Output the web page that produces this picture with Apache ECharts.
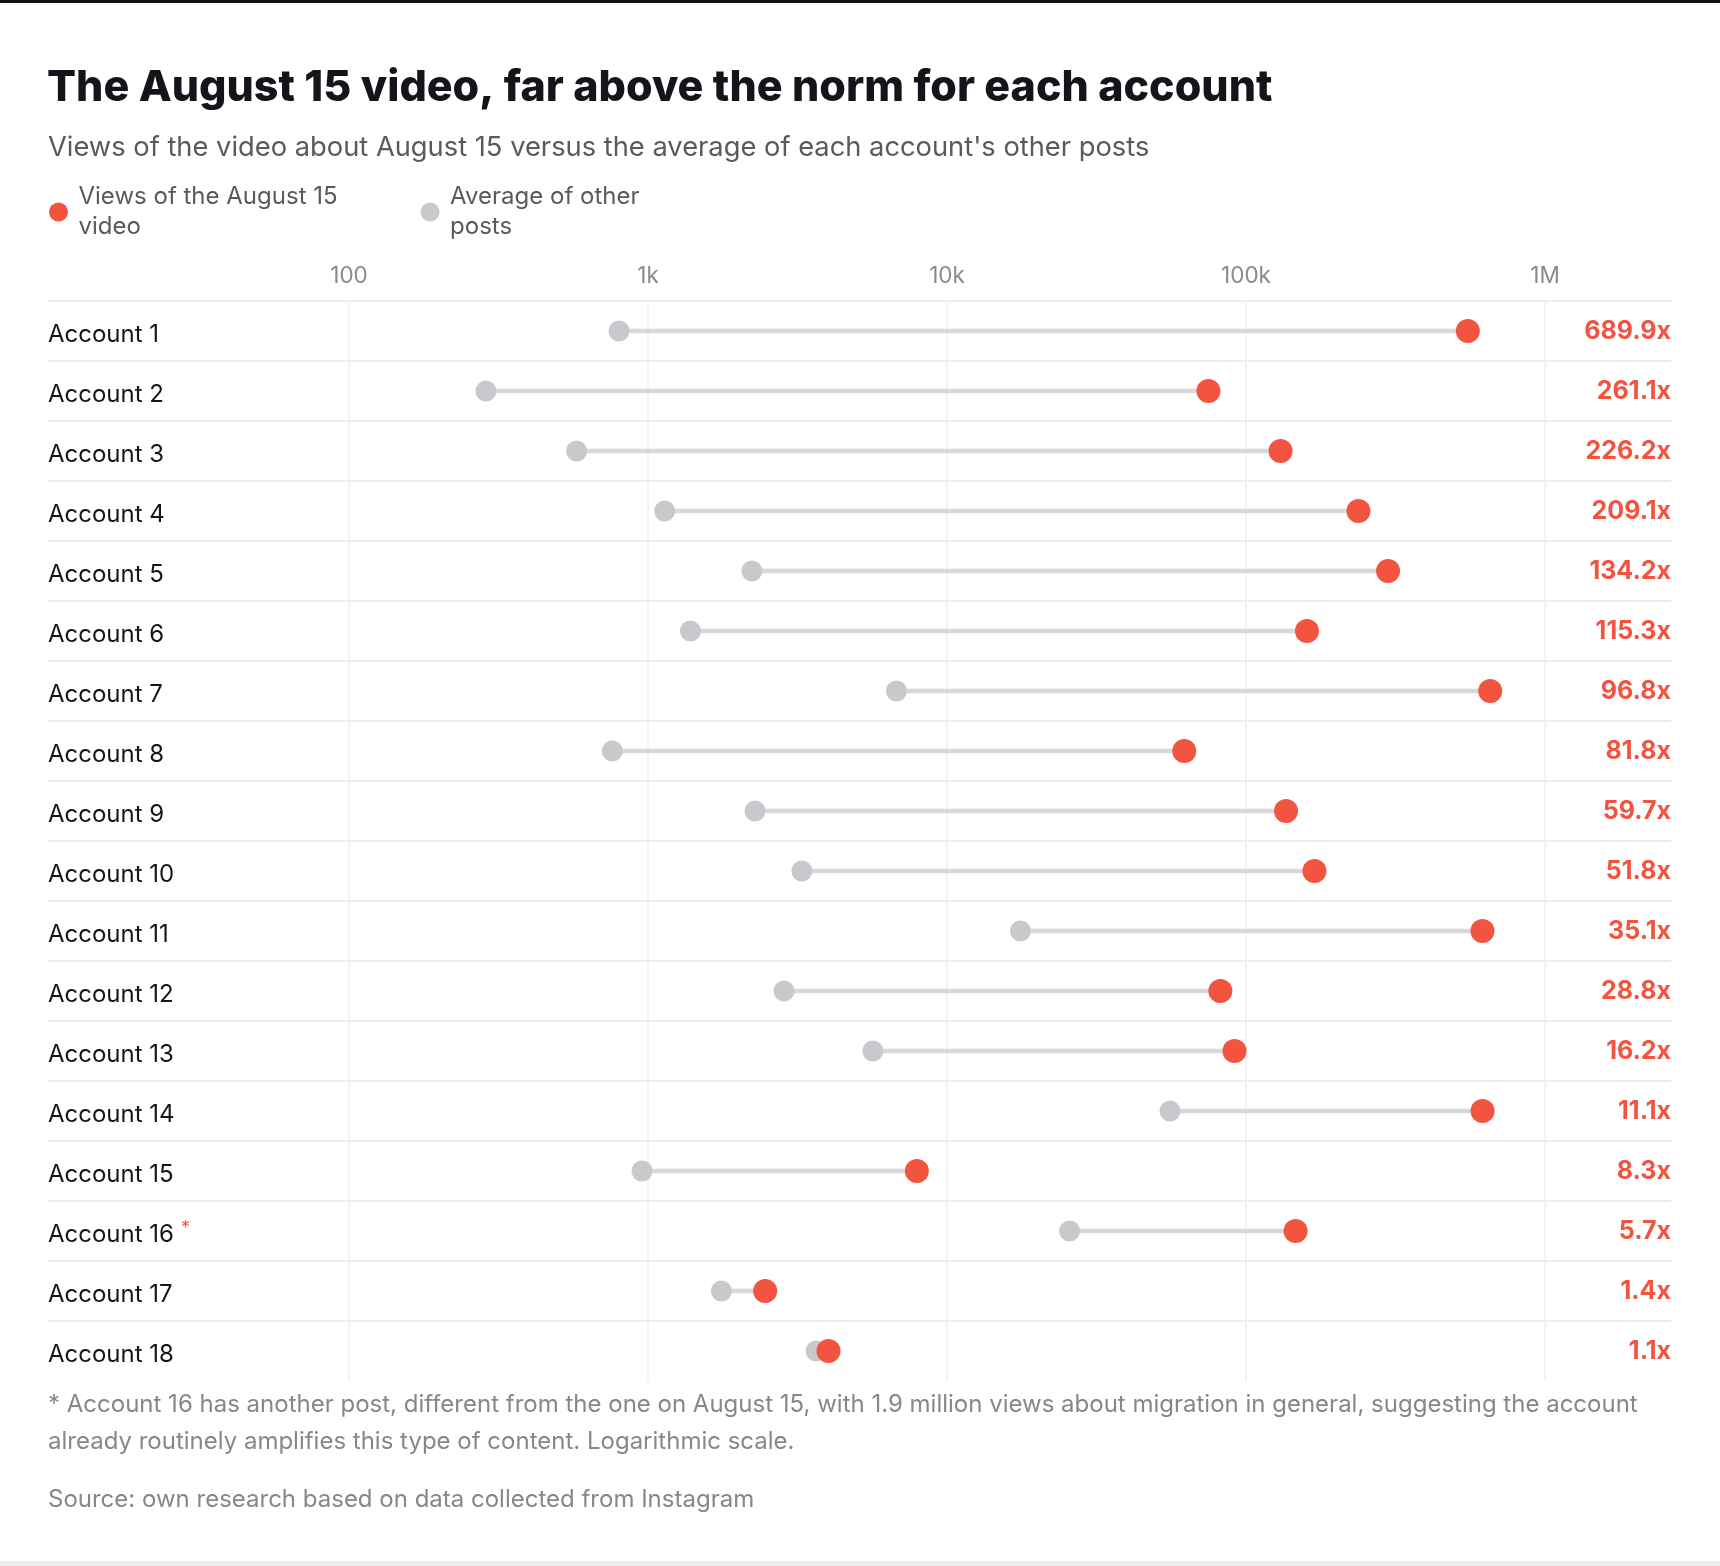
<!DOCTYPE html>
<html>
<head>
<meta charset="utf-8">
<script src="https://cdn.jsdelivr.net/npm/echarts@6/dist/echarts.min.js"></script>
<style>
html,body{margin:0;padding:0;background:#fff;}
#chart{width:1720px;height:1566px;}
</style>
</head>
<body>
<div id="chart"></div>
<script>
const accounts = ['Account 1','Account 2','Account 3','Account 4','Account 5','Account 6','Account 7','Account 8','Account 9','Account 10','Account 11','Account 12','Account 13','Account 14','Account 15','Account 16','Account 17','Account 18'];
const videoViews = [551900, 74900, 130500, 237700, 298600, 159900, 655800, 62170, 136100, 169400, 617800, 82080, 91530, 618300, 7930, 146500, 2465, 4015];
const avgViews = [800, 287, 577, 1137, 2225, 1387, 6775, 760, 2280, 3270, 17600, 2850, 5650, 55700, 955, 25700, 1760, 3650];
const ratioLabels = ['689.9x','261.1x','226.2x','209.1x','134.2x','115.3x','96.8x','81.8x','59.7x','51.8x','35.1x','28.8x','16.2x','11.1x','8.3x','5.7x','1.4x','1.1x'];
const tickValues = [100, 1000, 10000, 100000, 1000000];
const tickLabels = ['100','1k','10k','100k','1M'];
const annotatedAccount = 'Account 16';
const seriesNames = ['Views of the August 15 video', 'Average of other posts'];
const legendLabels = ['Views of the August 15\nvideo', 'Average of other\nposts'];
const titleText = 'The August 15 video, far above the norm for each account';
const subtitleText = "Views of the video about August 15 versus the average of each account's other posts";
const footnoteText = '* Account 16 has another post, different from the one on August 15, with 1.9 million views about migration in general, suggesting the account\nalready routinely amplifies this type of content. Logarithmic scale.';
const sourceText = 'Source: own research based on data collected from Instagram';

const RED = '#f2543f';
const GREY = '#c9c9cd';
const FONT = 'Inter';

const chart = echarts.init(document.getElementById('chart'), null, {renderer: 'canvas'});

const lineData = accounts.map((a, i) => [avgViews[i], videoViews[i], i]);

const option = {
  backgroundColor: '#ffffff',
  animation: false,
  textStyle: {fontFamily: FONT},
  title: [
    {text: titleText, left: 42, top: 62, textStyle: {fontFamily: FONT, fontSize: 43, fontWeight: 800, color: '#14141b'}},
    {text: subtitleText, left: 43, top: 129, textStyle: {fontFamily: FONT, fontSize: 27.3, fontWeight: 400, color: '#5a5a5e'}},
    {text: footnoteText, left: 43, top: 1381, textStyle: {fontFamily: FONT, fontSize: 24, fontWeight: 400, color: '#87878b', lineHeight: 37}},
    {text: sourceText, left: 43, top: 1483, textStyle: {fontFamily: FONT, fontSize: 24, fontWeight: 400, color: '#87878b'}}
  ],
  legend: {
    left: 44, top: 177,
    itemWidth: 30, itemHeight: 19, itemGap: 83,
    data: seriesNames,
    formatter: (name) => legendLabels[seriesNames.indexOf(name)],
    textStyle: {fontFamily: FONT, fontSize: 24, color: '#5a5a5e', lineHeight: 30},
    selectedMode: false
  },
  grid: [
    {left: 349, width: 1196, top: 301, height: 1080, containLabel: false},
    {left: 48, width: 1623, top: 301, height: 1080, containLabel: false}
  ],
  xAxis: [
    {
      gridIndex: 0, type: 'log', logBase: 10, min: 100, max: 1000000, splitNumber: 4,
      position: 'top',
      axisLine: {show: false}, axisTick: {show: false},
      axisLabel: {
        margin: 13, fontFamily: FONT, fontSize: 22.5, color: '#8a8a8e',
        formatter: (v) => {
          const k = tickValues.findIndex(t => Math.abs(Math.log10(t) - Math.log10(v)) < 1e-6);
          return k >= 0 ? tickLabels[k] : '';
        }
      },
      splitLine: {show: true, lineStyle: {color: '#efefef', width: 1.5}},
      minorSplitLine: {show: false}
    },
    {gridIndex: 1, type: 'value', show: false, min: 0, max: 1}
  ],
  yAxis: [
    {
      gridIndex: 0, type: 'category', data: accounts, inverse: true,
      axisLine: {show: false}, axisTick: {show: false}, splitLine: {show: false},
      axisLabel: {
        align: 'left', margin: 301,
        fontFamily: FONT, fontSize: 24, color: '#16161a',
        padding: [7, 0, 0, 0],
        formatter: (v) => v === annotatedAccount ? '{a|' + v + '}{s|*}' : '{a|' + v + '}',
        rich: {
          a: {fontFamily: FONT, fontSize: 24, color: '#16161a', lineHeight: 30},
          s: {fontFamily: FONT, fontSize: 18, color: RED, verticalAlign: 'top', padding: [0, 0, 10, 7], lineHeight: 18}
        }
      }
    },
    {
      gridIndex: 0, type: 'category', data: ratioLabels, inverse: true, position: 'right',
      axisLine: {show: false}, axisTick: {show: false}, splitLine: {show: false},
      axisLabel: {align: 'right', margin: 126, padding: [9, 0, 0, 0], fontFamily: FONT, fontSize: 25, fontWeight: 700, color: RED}
    },
    {
      gridIndex: 1, type: 'category', data: accounts, inverse: true,
      axisLine: {show: false}, axisTick: {show: false}, axisLabel: {show: false},
      splitLine: {show: true, showMaxLine: false, lineStyle: {color: '#eeeeee', width: 2}}
    }
  ],
  series: [
    {
      type: 'custom', xAxisIndex: 0, yAxisIndex: 0, z: 2,
      data: lineData,
      encode: {x: [0, 1], y: 2},
      renderItem: (params, api) => {
        const a = api.coord([api.value(0), api.value(2)]);
        const b = api.coord([api.value(1), api.value(2)]);
        return {type: 'line', shape: {x1: a[0], y1: a[1], x2: b[0], y2: b[1]}, style: {stroke: '#d8d8da', lineWidth: 4.5}};
      },
      silent: true
    },
    {
      name: seriesNames[1], type: 'scatter', xAxisIndex: 0, yAxisIndex: 0, z: 3,
      symbol: 'circle', symbolSize: 21,
      itemStyle: {color: GREY, opacity: 1},
      data: accounts.map((a, i) => [avgViews[i], i])
    },
    {
      name: seriesNames[0], type: 'scatter', xAxisIndex: 0, yAxisIndex: 0, z: 4,
      symbol: 'circle', symbolSize: 24,
      itemStyle: {color: RED, opacity: 1},
      data: accounts.map((a, i) => [videoViews[i], i])
    }
  ],
  graphic: [
    {type: 'rect', left: 0, top: 0, shape: {width: 1720, height: 3}, style: {fill: '#111111'}, silent: true},
    {type: 'rect', left: 0, top: 1561, shape: {width: 1720, height: 5}, style: {fill: '#ececec'}, silent: true}
  ]
};

chart.setOption(option);
</script>
</body>
</html>
